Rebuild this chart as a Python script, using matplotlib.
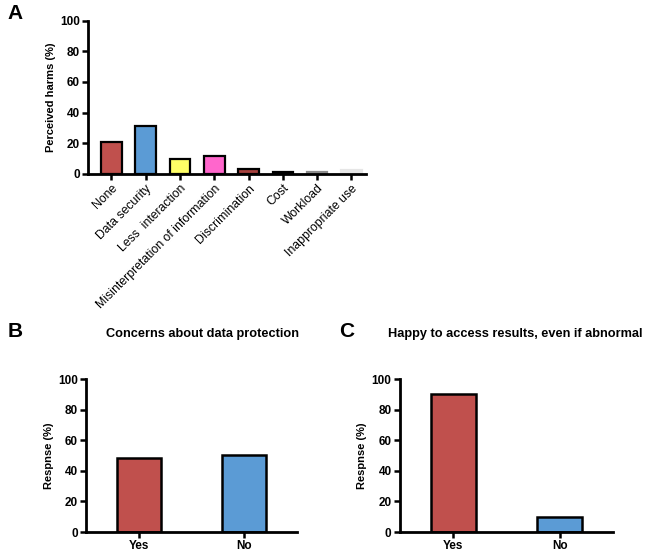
import matplotlib
matplotlib.use("Agg")
import matplotlib.pyplot as plt
import numpy as np

plt.rcParams['font.family'] = ['Liberation Sans', 'DejaVu Sans']

# panel A data
harms = ["None", "Data security", "Less  interaction", "Misinterpretation of information",
         "Discrimination", "Cost", "Workload", "Inappropriate use"]
harm_pct = [21, 31, 9.5, 11.5, 3.5, 1.3, 1.3, 2.5]
harm_colors = ["#C0504D", "#5B9BD5", "#FFFF66", "#FF66CC", "#A8423F", "#111111", "#8C8C8C", "#E6E6E6"]
harm_edges = ["black"] * 6 + ["#8C8C8C", "#E6E6E6"]

# panels B and C data
answers = ["Yes", "No"]
protection_pct = [48.5, 50.5]
happy_pct = [90, 9.5]
answer_colors = ["#C0504D", "#5B9BD5"]

yticks = [0, 20, 40, 60, 80, 100]


def style_axis(ax, ylabel):
    for s in ["top", "right"]:
        ax.spines[s].set_visible(False)
    for s in ["left", "bottom"]:
        ax.spines[s].set_linewidth(2)
    ax.set_ylim(0, 100)
    ax.set_yticks(yticks)
    ax.tick_params(axis="both", direction="out", length=4, width=1.8, pad=2)
    for lab in ax.get_yticklabels():
        lab.set_fontweight("bold")
        lab.set_fontsize(8.5)
    ax.set_ylabel(ylabel, fontsize=8, fontweight="bold", labelpad=3)


fig = plt.figure(figsize=(6.46, 5.52), dpi=100)

# A
axA = fig.add_axes([0.1362, 0.6848, 0.430, 0.278])
x = np.arange(len(harms))
axA.bar(x, harm_pct, width=0.6, color=harm_colors, edgecolor=harm_edges, linewidth=1.6)
axA.set_xlim(-0.685, 7.42)
style_axis(axA, "Perceived harms (%)")
axA.set_xticks(x)
axA.set_xticklabels(harms, rotation=45, ha="right", rotation_mode="anchor", fontsize=8.8)

# B
axB = fig.add_axes([0.1331, 0.0362, 0.3266, 0.277])
xb = np.arange(len(answers))
axB.bar(xb, protection_pct, width=0.42, color=answer_colors, edgecolor="black", linewidth=1.8)
axB.set_xlim(-0.5, 1.5)
style_axis(axB, "Respnse (%)")
axB.set_xticks(xb)
axB.set_xticklabels(answers, fontsize=8.5, fontweight="bold")

# C
axC = fig.add_axes([0.619, 0.0362, 0.330, 0.277])
axC.bar(xb, happy_pct, width=0.42, color=answer_colors, edgecolor="black", linewidth=1.8)
axC.set_xlim(-0.5, 1.5)
style_axis(axC, "Respnse (%)")
axC.set_xticks(xb)
axC.set_xticklabels(answers, fontsize=8.5, fontweight="bold")

title_y = 0.395
fig.text(0.314, title_y, "Concerns about data protection", fontsize=9.2,
         fontweight="bold", ha="center", va="center")
fig.text(0.797, title_y, "Happy to access results, even if abnormal", fontsize=9.2,
         fontweight="bold", ha="center", va="center")

fig.text(0.012, 0.975, "A", fontsize=15, fontweight="bold", va="center")
fig.text(0.012, title_y + 0.004, "B", fontsize=15, fontweight="bold", va="center")
fig.text(0.525, title_y + 0.004, "C", fontsize=15, fontweight="bold", va="center")

fig.savefig("out.png", dpi=100)
